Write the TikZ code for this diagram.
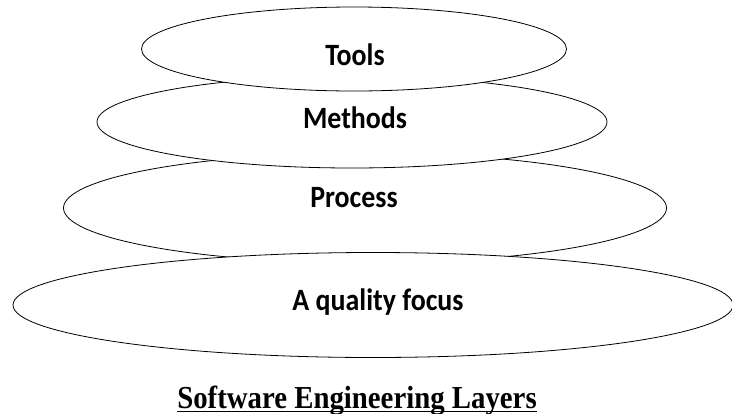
\documentclass[tikz,border=0pt]{standalone}
\usepackage{fontspec}
\setmainfont{Liberation Serif}
\newfontfamily\layerfont[FakeStretch=0.9]{Carlito}
\newfontfamily\captionfont[FakeStretch=0.9]{Liberation Serif}
\usetikzlibrary{shapes.geometric}
\newcommand{\mklayer}[4]{\node[layer, minimum width=#3, minimum height=#4] (#1) at #2 {} ;}
\tikzset{
    layer/.style={
        draw,
        ellipse,
        fill=white,
        line width=0.8pt,
        inner sep=0,
    },
    layer label/.style={
        anchor=base,
        font=\layerfont\fontsize{31pt}{33pt}\selectfont\bfseries,
    },
    caption/.style={
        anchor=base,
        inner sep=0,
        font=\captionfont\fontsize{32pt}{35pt}\selectfont\bfseries,
    },
}
\begin{document}
\begin{tikzpicture}[x=1pt,y=-1pt]
    \useasboundingbox (0,0) rectangle (732,413);

    % back to front
    \mklayer{process}{(365,208)}{603pt}{110pt}
    \mklayer{quality}{(373,305)}{720pt}{105pt}
    \mklayer{methods}{(352,122)}{510pt}{92pt}
    \mklayer{tools}{(354,49)}{425pt}{84pt}

    \node[layer label] (tools text)   at (355,65)  {Tools};
    \node[layer label] (methods text) at (355,128) {Methods};
    \node[layer label] (process text) at (354,207) {Process};
    \node[layer label] (quality text) at (378,310) {A quality focus};

    \node[caption] (caption) at (357,408) {Software Engineering Layers};
    \draw[line width=1.4pt] ([yshift=-3.5pt]caption.base west) -- ([yshift=-3.5pt]caption.base east);
\end{tikzpicture}
\end{document}
